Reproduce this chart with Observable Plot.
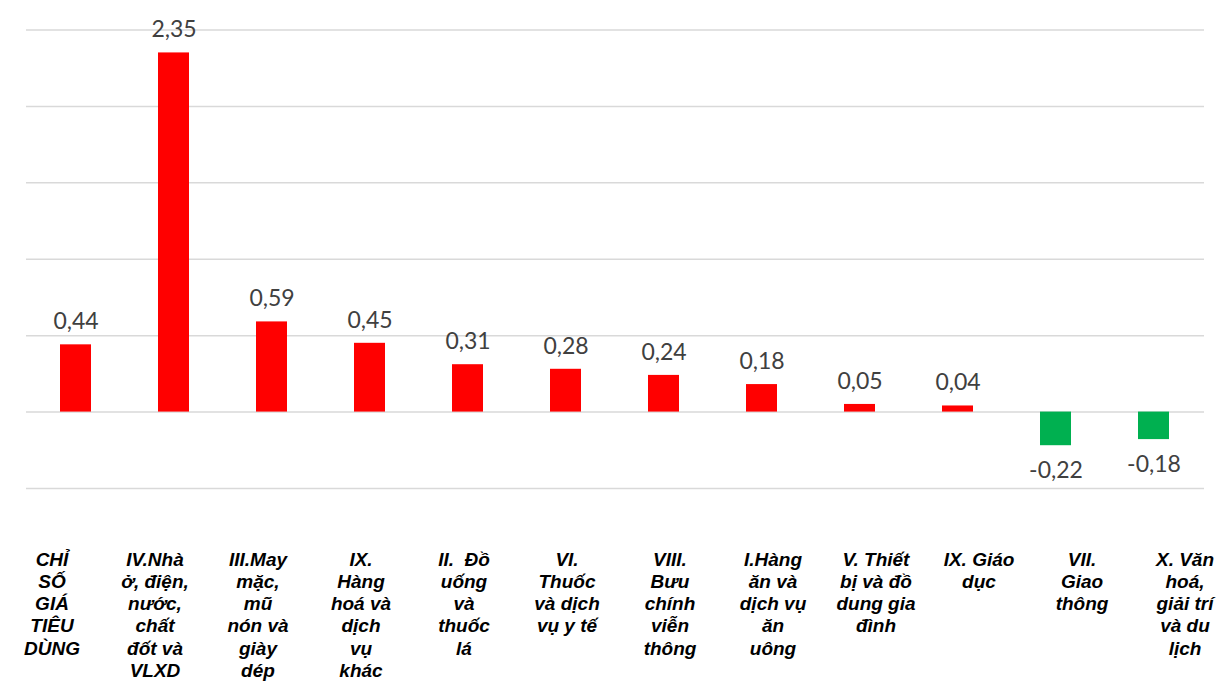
<!DOCTYPE html>
<html>
<head>
<meta charset="utf-8">
<script src="https://cdn.jsdelivr.net/npm/d3@7"></script>
<script src="https://cdn.jsdelivr.net/npm/@observablehq/plot@0.6"></script>
<style>
  html, body { margin: 0; padding: 0; background: #fff; }
  #chart { width: 1219px; overflow: hidden; }
  #chart svg { display: block; }
</style>
</head>
<body>
<div id="chart"></div>
<script>
const categories = [
  "CHỈ\nSỐ\nGIÁ\nTIÊU\nDÙNG",
  "IV.Nhà\nở, điện,\nnước,\nchất\nđốt và\nVLXD",
  "III.May\nmặc,\nmũ\nnón và\ngiày\ndép",
  "IX.\nHàng\nhoá và\ndịch\nvụ\nkhác",
  "II.  Đồ\nuống\nvà\nthuốc\nlá",
  "VI.\nThuốc\nvà dịch\nvụ y tế",
  "VIII.\nBưu\nchính\nviễn\nthông",
  "I.Hàng\năn và\ndịch vụ\năn\nuông",
  "V. Thiết\nbị và đồ\ndung gia\nđình",
  "IX. Giáo\ndục",
  "VII.\nGiao\nthông",
  "X. Văn\nhoá,\ngiải trí\nvà du\nlịch"
];
const values = [0.44, 2.35, 0.59, 0.45, 0.31, 0.28, 0.24, 0.18, 0.05, 0.04, -0.22, -0.18];
const gridTicks = [-0.5, 0, 0.5, 1, 1.5, 2, 2.5];

const data = categories.map((c, i) => ({cat: c, v: values[i]}));
const fmt = v => v.toFixed(2).replace(".", ",");

const main = Plot.plot({
  width: 1219,
  height: 530,
  marginTop: 29.5,
  marginBottom: 42,
  marginLeft: 26,
  marginRight: 15,
  x: {type: "band", domain: categories, paddingInner: 0.68, paddingOuter: 0.34, axis: null},
  y: {domain: [-0.5, 2.5], axis: null},
  style: {background: "#fff"},
  marks: [
    Plot.ruleY(gridTicks, {stroke: "#d9d9d9", strokeWidth: 1.5}),
    Plot.barY(data, {x: "cat", y: "v", fill: d => d.v >= 0 ? "#FF0000" : "#00B050"}),
    Plot.text(data.filter(d => d.v >= 0), {x: "cat", y: "v", text: d => fmt(d.v), dy: -23,
      fill: "#404040", fontSize: 23, fontFamily: "Lato, 'Open Sans', sans-serif"}),
    Plot.text(data.filter(d => d.v < 0), {x: "cat", y: "v", text: d => fmt(d.v), dy: 25,
      fill: "#404040", fontSize: 23, fontFamily: "Lato, 'Open Sans', sans-serif"})
  ]
});

const labels = Plot.plot({
  width: 1219,
  height: 152,
  margin: 0,
  x: {type: "band", domain: categories, range: [-3.75, 1238.75], padding: 0, axis: null},
  style: {background: "#fff", overflow: "hidden"},
  marks: [
    Plot.text(data, {x: "cat", frameAnchor: "top", lineAnchor: "top", dy: 19.5, text: "cat",
      lineHeight: 1.17, fontSize: 19, fontWeight: "bold", fontStyle: "italic",
      fill: "#000", fontFamily: "Arial, 'Liberation Sans', sans-serif"})
  ]
});

const el = document.getElementById("chart");
el.appendChild(main);
el.appendChild(labels);
</script>
</body>
</html>
